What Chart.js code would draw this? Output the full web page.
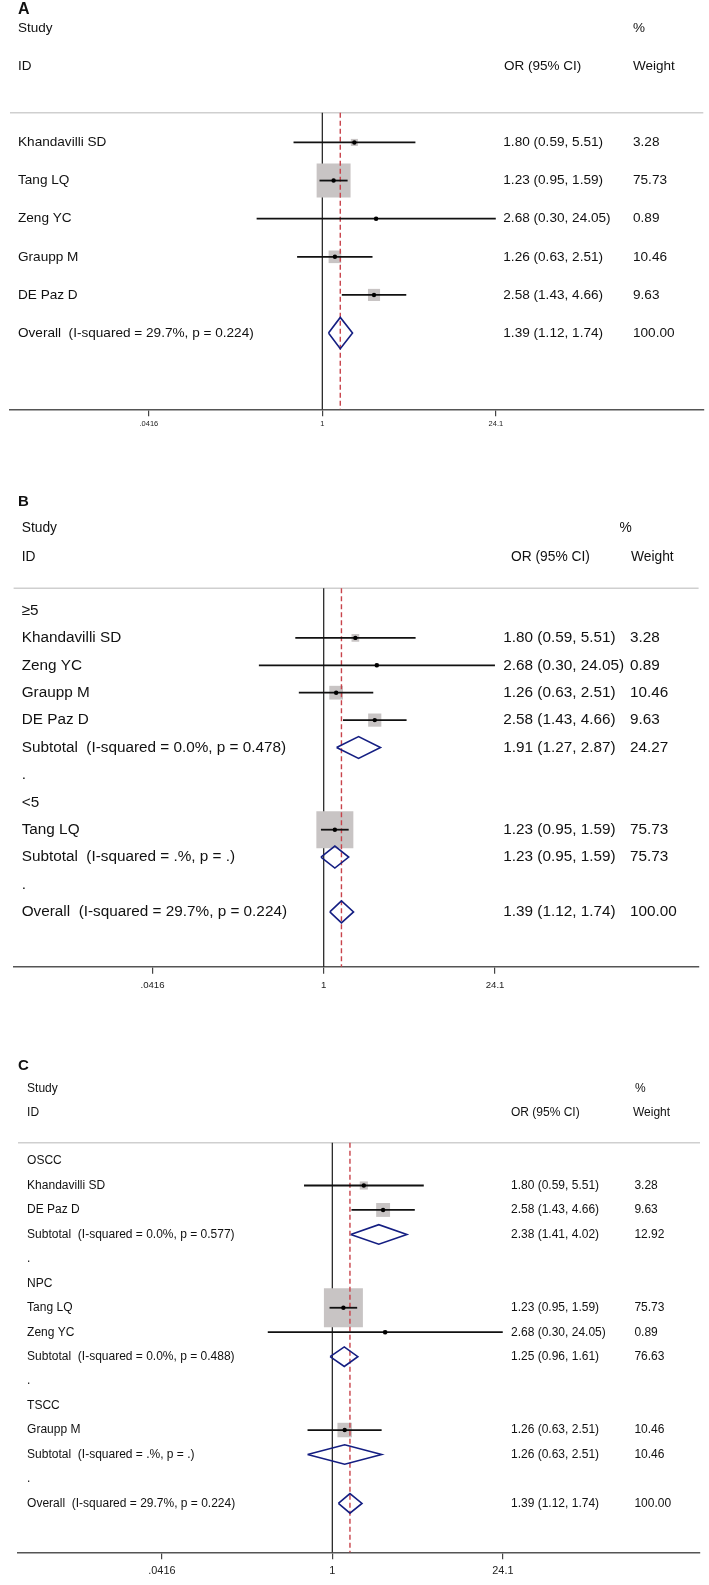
<!DOCTYPE html>
<html>
<head>
<meta charset="utf-8">
<title>Forest plots A, B, C</title>
<script src="https://cdn.jsdelivr.net/npm/chart.js@4.4.0/dist/chart.umd.min.js"></script>
<style>
  html, body { margin: 0; padding: 0; background: #fff; }
  #page { position: relative; width: 709px; height: 1585px; overflow: hidden; background: #fff; }
  canvas { position: absolute; left: 0; }
</style>
</head>
<body>
<div id="page">
  <canvas id="chartA" width="709" height="440" style="top:0px"></canvas>
  <canvas id="chartB" width="709" height="512" style="top:485px"></canvas>
  <canvas id="chartC" width="709" height="540" style="top:1045px"></canvas>
</div>
<script>
// studies (panel A order)
var studyNames = ['Khandavilli SD', 'Tang LQ', 'Zeng YC', 'Graupp M', 'DE Paz D'];
var studyOR = [1.80, 1.23, 2.68, 1.26, 2.58];
var studyLow = [0.59, 0.95, 0.30, 0.63, 1.43];
var studyHigh = [5.51, 1.59, 24.05, 2.51, 4.66];
var studyWeight = [3.28, 75.73, 0.89, 10.46, 9.63];

var overallOR = 1.39;
var overallLow = 1.12;
var overallHigh = 1.74;
var overallWeight = 100.00;
var overallHet = 'I-squared = 29.7%, p = 0.224';

// B: subgroups
var doseGroups = ['≥5', '<5'];
var doseMembers = [[0, 2, 3, 4], [1]];
var doseSubOR = [1.91, 1.23];
var doseSubLow = [1.27, 0.95];
var doseSubHigh = [2.87, 1.59];
var doseSubWeight = [24.27, 75.73];
var doseSubHet = ['I-squared = 0.0%, p = 0.478', 'I-squared = .%, p = .'];

// C: subgroups
var typeGroups = ['OSCC', 'NPC', 'TSCC'];
var typeMembers = [[0, 4], [1, 2], [3]];
var typeSubOR = [2.38, 1.25, 1.26];
var typeSubLow = [1.41, 0.96, 0.63];
var typeSubHigh = [4.02, 1.61, 2.51];
var typeSubWeight = [12.92, 76.63, 10.46];
var typeSubHet = ['I-squared = 0.0%, p = 0.577', 'I-squared = 0.0%, p = 0.488', 'I-squared = .%, p = .'];

var xTicks = [0.0416, 1, 24.1];
var xTickLabels = ['.0416', '1', '24.1'];

var FONT = '"Liberation Sans", Arial, Helvetica, sans-serif';

function fmt(v) { return v.toFixed(2); }

function studyRow(i) {
    return { kind: 'study', label: studyNames[i], or: studyOR[i], low: studyLow[i], high: studyHigh[i], weight: studyWeight[i] };
}

function buildRows(groups, members, subOR, subLow, subHigh, subW, subHet) {
    var rows = [];
    if (!groups) {
        studyNames.forEach(function (n, i) { rows.push(studyRow(i)); });
    } else {
        groups.forEach(function (g, k) {
            rows.push({ kind: 'group', label: g });
            members[k].forEach(function (i) { rows.push(studyRow(i)); });
            rows.push({ kind: 'sub', label: 'Subtotal  (' + subHet[k] + ')', or: subOR[k], low: subLow[k], high: subHigh[k], weight: subW[k] });
            rows.push({ kind: 'gap', label: '.' });
        });
    }
    rows.push({ kind: 'overall', label: 'Overall  (' + overallHet + ')', or: overallOR, low: overallLow, high: overallHigh, weight: overallWeight });
    return rows;
}

var panels = [
    { id: 'chartA', letter: 'A', rows: buildRows(),
      yMin: -0.78, lnMin: -5.725, lnMax: 6.984, left: 10, right: 703.3, padTop: 112.7, axisH: 30.7,
      letterFont: 16, letterX: 18, letterY: 10, headFont: 13.5, studyY: 28.3, idY: 66.7,
      labelX: 18, orX: 503.3, wX: 633, orHeadX: 504, wHeadX: 633, pctX: 633,
      font: 13.6, box: 3.9, ci: 1.8, dot: 2.2, dh: 0.41, tickFont: 7.5, tickPad: 3 },
    { id: 'chartB', letter: 'B', rows: buildRows(doseGroups, doseMembers, doseSubOR, doseSubLow, doseSubHigh, doseSubWeight, doseSubHet),
      yMin: -0.81, lnMin: -5.759, lnMax: 6.962, left: 13.6, right: 698.6, padTop: 103.3, axisH: 30.3,
      letterFont: 15, letterX: 18, letterY: 17, headFont: 13.8, studyY: 43.3, idY: 71.7,
      labelX: 21.7, orX: 503.3, wX: 630, orHeadX: 511, wHeadX: 631, pctX: 619.5,
      font: 15.3, box: 4.25, ci: 1.8, dot: 2.2, dh: 0.4, tickFont: 9.6, tickPad: 5.5 },
    { id: 'chartC', letter: 'C', rows: buildRows(typeGroups, typeMembers, typeSubOR, typeSubLow, typeSubHigh, typeSubWeight, typeSubHet),
      yMin: -0.75, lnMin: -5.864, lnMax: 6.860, left: 18, right: 700, padTop: 97.7, axisH: 32.7,
      letterFont: 15, letterX: 18, letterY: 20.5, headFont: 12, studyY: 43.3, idY: 67.7,
      labelX: 27.1, orX: 511, wX: 634.4, orHeadX: 511, wHeadX: 633, pctX: 635,
      font: 12, box: 4.48, ci: 1.8, dot: 2.2, dh: 0.4, tickFont: 10.9, tickPad: 5.5 }
];

function makeTextPlugin(p) {
    return {
        id: 'forestText' + p.letter,
        afterDraw: function (chart) {
            var ctx = chart.ctx;
            var y = chart.scales.y;
            ctx.save();
            ctx.fillStyle = '#111';
            ctx.textBaseline = 'middle';
            ctx.textAlign = 'left';
            ctx.font = 'bold ' + p.letterFont + 'px ' + FONT;
            ctx.fillText(p.letter, p.letterX, p.letterY);
            ctx.font = p.headFont + 'px ' + FONT;
            ctx.fillText('Study', p.labelX, p.studyY);
            ctx.fillText('%', p.pctX, p.studyY);
            ctx.fillText('ID', p.labelX, p.idY);
            ctx.fillText('OR (95% CI)', p.orHeadX, p.idY);
            ctx.fillText('Weight', p.wHeadX, p.idY);
            ctx.font = p.font + 'px ' + FONT;
            p.rows.forEach(function (r, i) {
                var py = y.getPixelForValue(i);
                ctx.fillText(r.label, p.labelX, py);
                if (r.or !== undefined) {
                    ctx.fillText(fmt(r.or) + ' (' + fmt(r.low) + ', ' + fmt(r.high) + ')', p.orX, py);
                    ctx.fillText(fmt(r.weight), p.wX, py);
                }
            });
            ctx.restore();
        }
    };
}

function makeDatasets(p, xmin, xmax) {
    var rows = p.rows;
    var yTop = p.yMin;
    var yBot = rows.length + 1;
    var ds = [];
    var studies = [];
    rows.forEach(function (r, i) { if (r.kind === 'study') studies.push({ r: r, i: i }); });

    // separator line under the header
    ds.push({ data: [{ x: xmin, y: yTop }, { x: xmax, y: yTop }], showLine: true,
              borderColor: '#cfcfcf', borderWidth: 1.5, pointRadius: 0, order: 20 });
    // no-effect line
    ds.push({ data: [{ x: 1, y: yTop }, { x: 1, y: yBot }], showLine: true,
              borderColor: '#1a1a1a', borderWidth: 1.2, pointRadius: 0, order: 19 });
    // weight boxes
    ds.push({ data: studies.map(function (o) { return { x: o.r.or, y: o.i }; }),
              pointStyle: 'rect', showLine: false,
              pointRadius: studies.map(function (o) { return p.box * Math.sqrt(o.r.weight) / Math.SQRT2; }),
              pointBackgroundColor: '#c8c4c4', pointBorderWidth: 0, order: 10 });
    // overall estimate (dashed)
    ds.push({ data: [{ x: overallOR, y: yTop }, { x: overallOR, y: yBot }], showLine: true,
              borderColor: '#c8434b', borderWidth: 1.4, borderDash: [5, 3], pointRadius: 0, order: 5 });
    // confidence intervals
    studies.forEach(function (o) {
        ds.push({ data: [{ x: o.r.low, y: o.i }, { x: o.r.high, y: o.i }], showLine: true,
                  borderColor: '#111', borderWidth: p.ci, pointRadius: 0, order: 3 });
    });
    // pooled diamonds
    rows.forEach(function (r, i) {
        if (r.kind === 'sub' || r.kind === 'overall') {
            ds.push({ data: [{ x: r.low, y: i }, { x: r.or, y: i - p.dh }, { x: r.high, y: i },
                             { x: r.or, y: i + p.dh }, { x: r.low, y: i }],
                      showLine: true, borderColor: '#141e82', borderWidth: 1.6,
                      borderJoinStyle: 'miter', pointRadius: 0, order: 2 });
        }
    });
    // point estimates
    ds.push({ data: studies.map(function (o) { return { x: o.r.or, y: o.i }; }),
              pointStyle: 'circle', showLine: false, pointRadius: p.dot,
              pointBackgroundColor: '#000', pointBorderWidth: 0, order: 1 });

    ds.forEach(function (d) { d.clip = false; d.fill = false; d.tension = 0; });
    return ds;
}

panels.forEach(function (p) {
    var xmin = Math.exp(p.lnMin);
    var xmax = Math.exp(p.lnMax);
    var ctx = document.getElementById(p.id).getContext('2d');
    new Chart(ctx, {
        type: 'scatter',
        data: { datasets: makeDatasets(p, xmin, xmax) },
        options: {
            responsive: false,
            animation: false,
            devicePixelRatio: 1,
            events: [],
            layout: { autoPadding: false, padding: { left: p.left, right: 709 - p.right, top: p.padTop, bottom: 0 } },
            plugins: { legend: { display: false }, tooltip: { enabled: false } },
            scales: {
                x: {
                    type: 'logarithmic',
                    position: 'bottom',
                    min: xmin,
                    max: xmax,
                    bounds: 'data',
                    afterBuildTicks: function (s) { s.ticks = xTicks.map(function (v) { return { value: v }; }); },
                    afterFit: function (s) { s.height = p.axisH; },
                    ticks: {
                        autoSkip: false,
                        maxRotation: 0,
                        padding: p.tickPad,
                        color: '#222',
                        font: { family: FONT, size: p.tickFont },
                        callback: function (v, i) { return xTickLabels[i]; }
                    },
                    grid: { display: true, drawOnChartArea: false, drawTicks: true, tickLength: 7, color: '#444', lineWidth: 1.2 },
                    border: { display: true, color: '#555', width: 1.6 }
                },
                y: {
                    type: 'linear',
                    reverse: true,
                    min: p.yMin,
                    max: p.rows.length + 1,
                    display: false
                }
            }
        },
        plugins: [makeTextPlugin(p)]
    });
});
</script>
</body>
</html>
